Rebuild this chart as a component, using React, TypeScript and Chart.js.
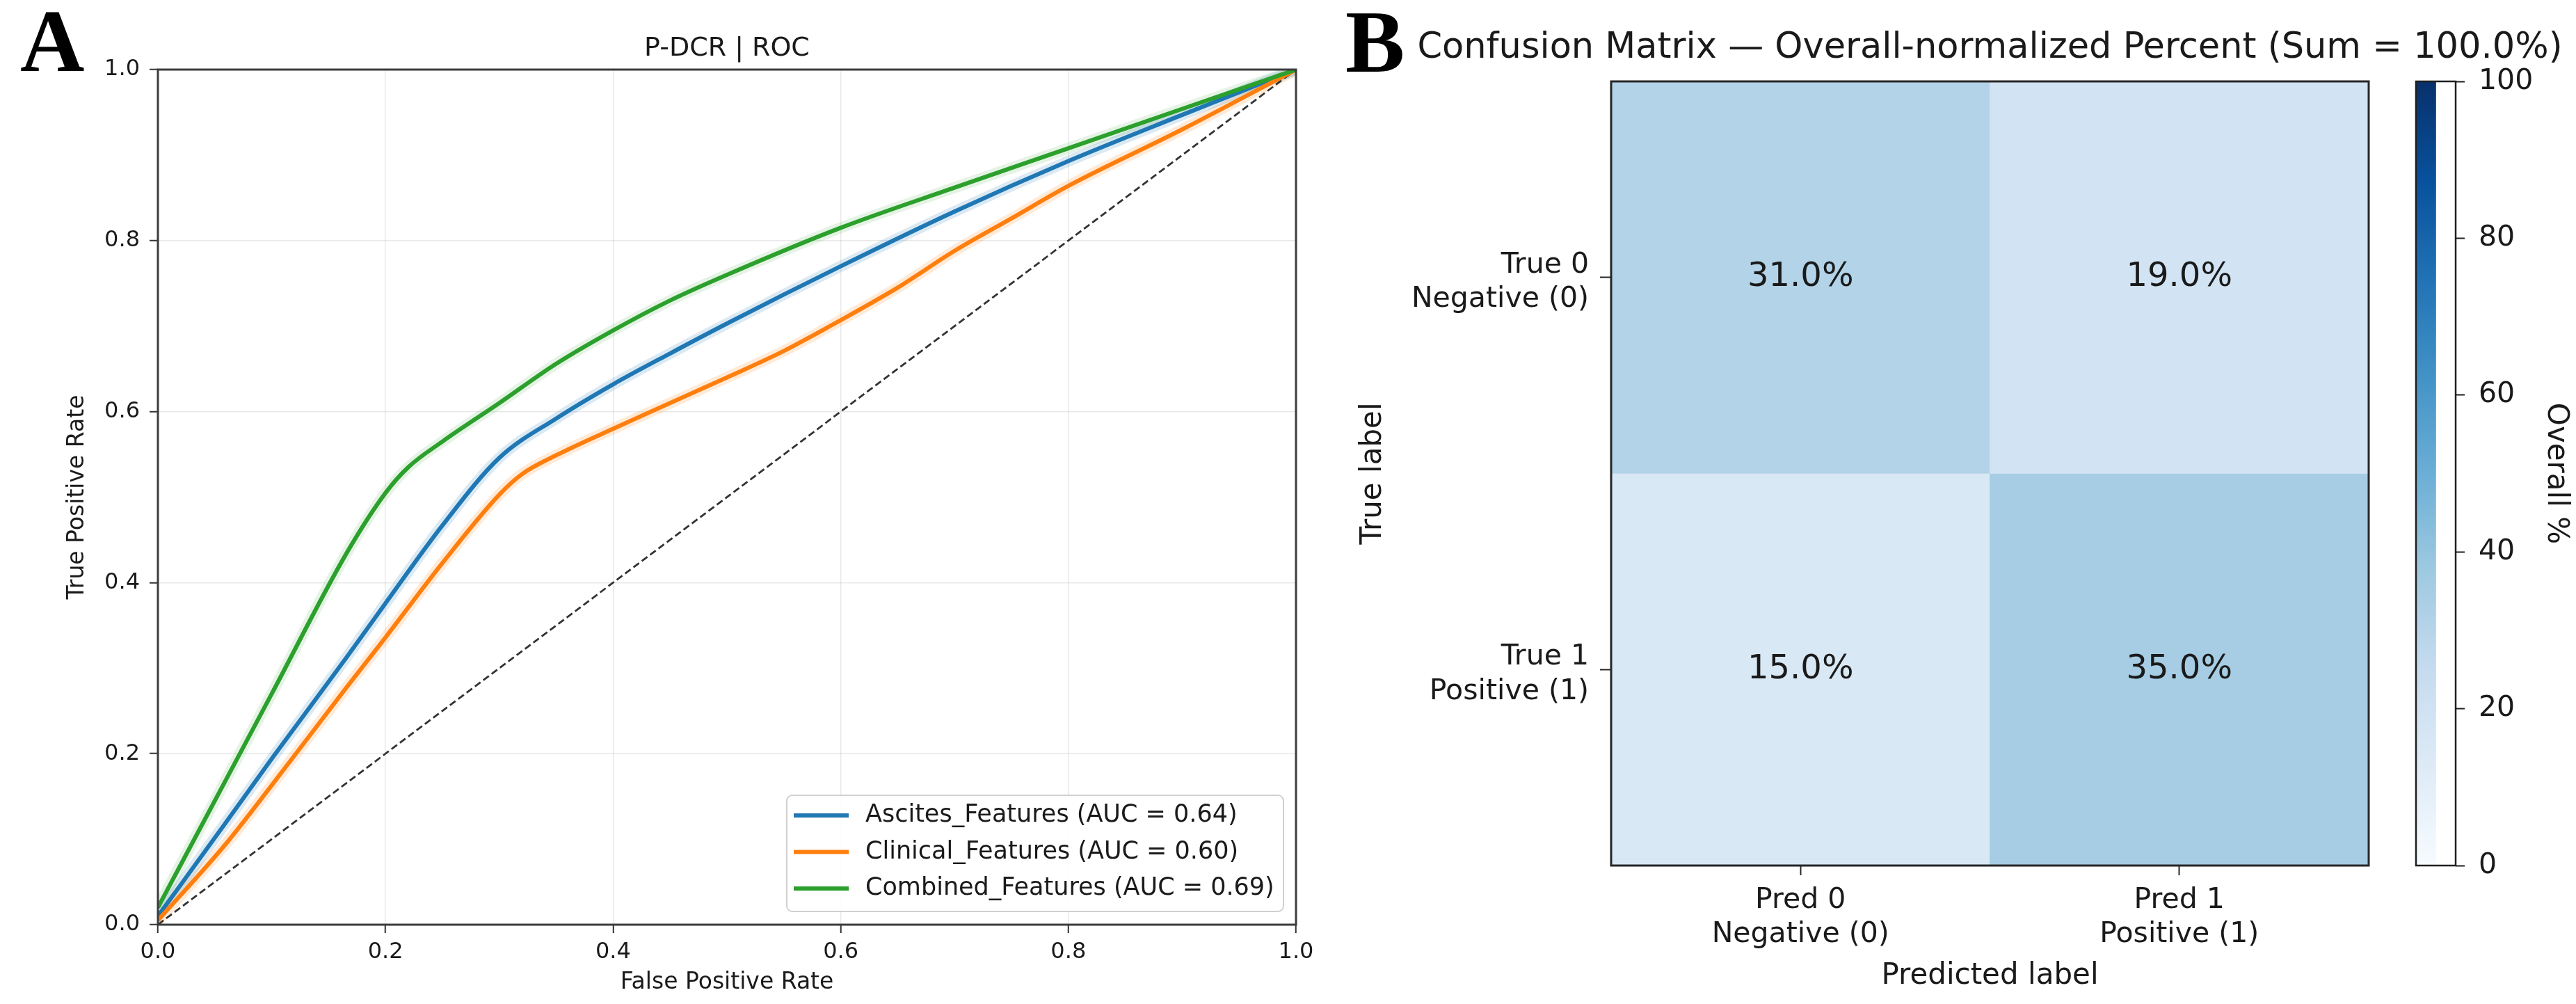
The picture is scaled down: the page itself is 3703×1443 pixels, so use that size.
import React, { useEffect, useRef } from 'react';
import { Chart, registerables } from 'chart.js';

Chart.register(...registerables);

const FONT = "'DejaVu Sans', 'Noto Sans', sans-serif";
const SERIF = "'Liberation Serif', 'DejaVu Serif', serif";
const TEXT = '#1a1a1a';

// ---------- Panel A: ROC ----------
const rocTitle = 'P-DCR | ROC';
const rocXLabel = 'False Positive Rate';
const rocYLabel = 'True Positive Rate';
const rocTicks = [0, 0.2, 0.4, 0.6, 0.8, 1.0];
const seriesNames = ['Ascites_Features', 'Clinical_Features', 'Combined_Features'];
const seriesAuc = [0.64, 0.6, 0.69];
const seriesColors = ['#1f77b4', '#ff7f0e', '#2ca02c'];
const seriesBands = ['rgba(31,119,180,0.16)', 'rgba(255,127,14,0.16)', 'rgba(44,160,44,0.12)'];

const ascitesFpr = [0, 0.06, 0.1, 0.166, 0.2, 0.25, 0.3, 0.35, 0.4, 0.45, 0.5, 0.6, 0.7, 0.8, 0.9, 1.0];
const ascitesTpr = [0.01, 0.12, 0.194, 0.313, 0.376, 0.467, 0.546, 0.592, 0.632, 0.668, 0.703, 0.77, 0.834, 0.893, 0.947, 1.0];

const clinicalFpr = [0, 0.06, 0.1, 0.166, 0.2, 0.25, 0.3, 0.32, 0.35, 0.4, 0.45, 0.5, 0.55, 0.6, 0.65, 0.7, 0.75, 0.8, 0.9, 1.0];
const clinicalTpr = [0.005, 0.095, 0.163, 0.278, 0.336, 0.423, 0.503, 0.527, 0.549, 0.58, 0.61, 0.64, 0.671, 0.707, 0.745, 0.788, 0.826, 0.864, 0.93, 1.0];

const combinedFpr = [0, 0.06, 0.1, 0.166, 0.2, 0.22, 0.25, 0.3, 0.35, 0.4, 0.45, 0.5, 0.6, 0.7, 0.8, 0.9, 1.0];
const combinedTpr = [0.02, 0.17, 0.27, 0.435, 0.505, 0.535, 0.565, 0.61, 0.656, 0.695, 0.73, 0.76, 0.815, 0.862, 0.908, 0.954, 1.0];

const chanceFpr = [0, 1];
const chanceTpr = [0, 1];

// ---------- Panel B: confusion matrix ----------
const cmTitle = 'Confusion Matrix \u2014 Overall-normalized Percent (Sum = 100.0%)';
const predLabels = [['Pred 0', 'Negative (0)'], ['Pred 1', 'Positive (1)']];
const trueLabels = [['True 0', 'Negative (0)'], ['True 1', 'Positive (1)']];
const row0Percent = [31.0, 19.0];
const row1Percent = [15.0, 35.0];
const cmXLabel = 'Predicted label';
const cmYLabel = 'True label';
const colorbarLabel = 'Overall %';
const colorbarTicks = [0, 20, 40, 60, 80, 100];

const BLUES = ['#f7fbff', '#deebf7', '#c6dbef', '#9ecae1', '#6baed6', '#4292c6', '#2171b5', '#08519c', '#08306b'];

function hexToRgb(h: string) {
  const n = parseInt(h.slice(1), 16);
  return [(n >> 16) & 255, (n >> 8) & 255, n & 255];
}
function blues(t: number) {
  const c = Math.max(0, Math.min(1, t)) * (BLUES.length - 1);
  const i = Math.min(BLUES.length - 2, Math.floor(c));
  const f = c - i;
  const a = hexToRgb(BLUES[i]);
  const b = hexToRgb(BLUES[i + 1]);
  const m = a.map((v, k) => Math.round(v + (b[k] - v) * f));
  return `rgb(${m[0]},${m[1]},${m[2]})`;
}

const pts = (xs: number[], ys: number[]) => xs.map((x, i) => ({ x, y: ys[i] }));

function makeRocConfig(): any {
  const curves = [
    pts(ascitesFpr, ascitesTpr),
    pts(clinicalFpr, clinicalTpr),
    pts(combinedFpr, combinedTpr),
  ];
  const mains = curves.map((d, i) => ({
    label: `${seriesNames[i]} (AUC = ${seriesAuc[i].toFixed(2)})`,
    data: d,
    borderColor: seriesColors[i],
    backgroundColor: seriesColors[i],
    borderWidth: 6,
    pointRadius: 0,
    fill: false,
    cubicInterpolationMode: 'monotone',
    order: 3 - i,
    isMain: true,
  }));
  const bands = curves.map((d, i) => ({
    label: '',
    data: d,
    borderColor: seriesBands[i],
    borderWidth: 16,
    pointRadius: 0,
    fill: false,
    cubicInterpolationMode: 'monotone',
    order: 10 + i,
  }));
  const chance = {
    label: '',
    data: pts(chanceFpr, chanceTpr),
    borderColor: '#333333',
    borderWidth: 2.8,
    borderDash: [10, 5],
    pointRadius: 0,
    fill: false,
    order: 5,
  };

  const axisCommon = (title: string, isX: boolean) => ({
    type: 'linear',
    min: 0,
    max: 1,
    afterBuildTicks: (s: any) => { s.ticks = rocTicks.map((v) => ({ value: v })); },
    afterFit: (s: any) => { if (isX) s.height = 114; else s.width = 227; },
    ticks: {
      font: { family: FONT, size: 32 },
      color: TEXT,
      padding: isX ? 8 : 14,
      autoSkip: false,
      maxRotation: 0,
      callback: (v: any) => Number(v).toFixed(1),
    },
    grid: {
      color: 'rgba(190,190,190,0.35)',
      lineWidth: 1.5,
      tickColor: '#333',
      tickLength: 12,
      tickWidth: 2,
    },
    border: { display: false },
    title: {
      display: true,
      text: title,
      color: TEXT,
      font: { family: FONT, size: 33 },
      padding: isX ? { top: 0, bottom: 11 } : { top: 92, bottom: 0 },
    },
  });

  const plugin = {
    id: 'rocExtras',
    afterDraw(chart: any) {
      const { ctx, chartArea: a } = chart;
      ctx.save();
      // frame
      ctx.strokeStyle = '#3c3c3c';
      ctx.lineWidth = 3;
      ctx.strokeRect(a.left, a.top, a.right - a.left, a.bottom - a.top);
      // legend
      const w = 714, h = 167;
      const lx = a.right - 18 - w;
      const ly = a.bottom - 19 - h;
      const r = 8;
      ctx.beginPath();
      ctx.moveTo(lx + r, ly);
      ctx.arcTo(lx + w, ly, lx + w, ly + h, r);
      ctx.arcTo(lx + w, ly + h, lx, ly + h, r);
      ctx.arcTo(lx, ly + h, lx, ly, r);
      ctx.arcTo(lx, ly, lx + w, ly, r);
      ctx.closePath();
      ctx.fillStyle = 'rgba(255,255,255,0.85)';
      ctx.fill();
      ctx.strokeStyle = '#d0d0d0';
      ctx.lineWidth = 2;
      ctx.stroke();
      const items = chart.data.datasets.filter((d: any) => d.isMain);
      items.forEach((d: any, i: number) => {
        const y = ly + 29 + i * 52.5;
        ctx.strokeStyle = d.borderColor;
        ctx.lineWidth = 6;
        ctx.beginPath();
        ctx.moveTo(lx + 10, y);
        ctx.lineTo(lx + 89, y);
        ctx.stroke();
        ctx.fillStyle = TEXT;
        ctx.font = `35px ${FONT}`;
        ctx.textAlign = 'left';
        ctx.textBaseline = 'middle';
        ctx.fillText(d.label, lx + 113, y);
      });
      // panel letter
      ctx.fillStyle = '#000';
      ctx.font = `bold 128px ${SERIF}`;
      ctx.textAlign = 'left';
      ctx.textBaseline = 'alphabetic';
      ctx.fillText('A', 29, 102);
      ctx.restore();
    },
  };

  return {
    type: 'line',
    data: { datasets: [...mains, chance, ...bands] },
    options: {
      responsive: false,
      animation: false,
      events: [],
      layout: { padding: { left: 0, right: 37, top: 0, bottom: 0 } },
      plugins: {
        legend: { display: false },
        tooltip: { enabled: false },
        title: {
          display: true,
          text: rocTitle,
          fullSize: false,
          color: TEXT,
          font: { family: FONT, size: 38, weight: 'normal' },
          padding: { top: 47, bottom: 7.4 },
        },
      },
      scales: {
        x: axisCommon(rocXLabel, true),
        y: axisCommon(rocYLabel, false),
      },
    },
    plugins: [plugin],
  };
}

function makeCmConfig(): any {
  const rows = [row0Percent, row1Percent];
  const nRows = trueLabels.length;
  const datasets = rows.map((vals, r) => ({
    label: trueLabels[r].join(' '),
    data: vals.map(() => [nRows - 1 - r, nRows - r]),
    percents: vals,
    backgroundColor: vals.map((v) => blues(v / 100)),
    borderWidth: 0,
    barPercentage: 1,
    categoryPercentage: 1,
    grouped: false,
  }));

  const plugin = {
    id: 'cmExtras',
    afterDraw(chart: any) {
      const { ctx, chartArea: a } = chart;
      ctx.save();
      // cell texts
      ctx.fillStyle = TEXT;
      ctx.font = `48px ${FONT}`;
      ctx.textAlign = 'center';
      ctx.textBaseline = 'middle';
      chart.data.datasets.forEach((d: any, di: number) => {
        const meta = chart.getDatasetMeta(di);
        meta.data.forEach((el: any, i: number) => {
          const cy = (el.y + el.base) / 2;
          ctx.fillText(`${d.percents[i].toFixed(1)}%`, el.x, cy);
        });
      });
      // frame
      ctx.strokeStyle = '#262626';
      ctx.lineWidth = 3;
      ctx.strokeRect(a.left, a.top, a.right - a.left, a.bottom - a.top);
      // title
      ctx.fillStyle = TEXT;
      ctx.font = `51px ${FONT}`;
      ctx.textAlign = 'center';
      ctx.textBaseline = 'middle';
      ctx.fillText(cmTitle, (a.left + a.right) / 2, a.top - 47);
      // panel letter
      ctx.fillStyle = '#000';
      ctx.font = `bold 128px ${SERIF}`;
      ctx.textAlign = 'left';
      ctx.textBaseline = 'alphabetic';
      ctx.fillText('B', 34, 103);
      ctx.restore();
    },
  };

  return {
    type: 'bar',
    data: { labels: predLabels, datasets },
    options: {
      responsive: false,
      animation: false,
      events: [],
      layout: { padding: { left: 0, right: 298, top: 117, bottom: 0 } },
      plugins: { legend: { display: false }, tooltip: { enabled: false }, title: { display: false } },
      scales: {
        x: {
          type: 'category',
          offset: true,
          afterFit: (s: any) => { s.height = 199; },
          ticks: { font: { family: FONT, size: 41 }, color: TEXT, padding: 12, autoSkip: false, maxRotation: 0 },
          grid: { offset: false, drawOnChartArea: false, tickLength: 14, tickColor: '#262626', tickWidth: 2 },
          border: { display: false },
          title: {
            display: true,
            text: cmXLabel,
            color: TEXT,
            font: { family: FONT, size: 42 },
            padding: { top: 0, bottom: 15 },
          },
        },
        y: {
          type: 'linear',
          min: 0,
          max: nRows,
          afterFit: (s: any) => { s.width = 416; },
          afterBuildTicks: (s: any) => { s.ticks = trueLabels.map((_, r) => ({ value: nRows - r - 0.5 })); },
          ticks: {
            font: { family: FONT, size: 41 },
            color: TEXT,
            padding: 16,
            autoSkip: false,
            labelOffset: 7,
            callback: (v: any) => trueLabels[Math.round(nRows - 0.5 - Number(v))],
          },
          grid: { drawOnChartArea: false, tickLength: 16, tickColor: '#262626', tickWidth: 2 },
          border: { display: false },
          title: {
            display: true,
            text: cmYLabel,
            color: TEXT,
            font: { family: FONT, size: 42 },
            padding: { top: 49, bottom: 0 },
          },
        },
      },
    },
    plugins: [plugin],
  };
}

function makeColorbarConfig(): any {
  const cbMin = colorbarTicks[0];
  const cbMax = colorbarTicks[colorbarTicks.length - 1];
  const plugin = {
    id: 'cbFrame',
    afterDraw(chart: any) {
      const { ctx, chartArea: a } = chart;
      ctx.save();
      ctx.strokeStyle = '#1f1f1f';
      ctx.lineWidth = 2.5;
      ctx.strokeRect(a.left, a.top, a.right - a.left, a.bottom - a.top);
      ctx.restore();
    },
  };
  return {
    type: 'bar',
    data: {
      labels: [colorbarLabel],
      datasets: [
        {
          label: colorbarLabel,
          data: [[cbMin, cbMax]],
          borderWidth: 0,
          barPercentage: 1,
          categoryPercentage: 1,
          backgroundColor: (c: any) => {
            const chart = c.chart;
            const area = chart.chartArea;
            if (!area) return BLUES[4];
            const g = chart.ctx.createLinearGradient(0, area.bottom, 0, area.top);
            BLUES.forEach((col, i) => g.addColorStop(i / (BLUES.length - 1), col));
            return g;
          },
        },
      ],
    },
    options: {
      responsive: false,
      animation: false,
      events: [],
      layout: { padding: { left: 53, right: 0, top: 117, bottom: 199 } },
      plugins: { legend: { display: false }, tooltip: { enabled: false } },
      scales: {
        x: { display: false, offset: false },
        y: {
          type: 'linear',
          position: 'right',
          min: cbMin,
          max: cbMax,
          afterFit: (s: any) => { s.width = 173; },
          afterBuildTicks: (s: any) => { s.ticks = colorbarTicks.map((v) => ({ value: v })); },
          ticks: { font: { family: FONT, size: 41 }, color: TEXT, padding: 20, autoSkip: false },
          grid: { drawOnChartArea: false, tickLength: 13, tickColor: '#1f1f1f', tickWidth: 2 },
          border: { display: false },
          title: {
            display: true,
            text: colorbarLabel,
            color: TEXT,
            font: { family: FONT, size: 42 },
            padding: { top: 4, bottom: 0 },
          },
        },
      },
    },
    plugins: [plugin],
  };
}

export default function App() {
  const aRef = useRef<HTMLCanvasElement>(null);
  const bRef = useRef<HTMLCanvasElement>(null);
  const cRef = useRef<HTMLCanvasElement>(null);

  useEffect(() => {
    Chart.defaults.font.family = FONT;
    const charts = [
      new Chart(aRef.current as HTMLCanvasElement, makeRocConfig()),
      new Chart(bRef.current as HTMLCanvasElement, makeCmConfig()),
      new Chart(cRef.current as HTMLCanvasElement, makeColorbarConfig()),
    ];
    return () => charts.forEach((c) => c.destroy());
  }, []);

  return (
    <div style={{ position: 'absolute', left: 0, top: 0, width: 3703, height: 1443, background: '#ffffff', overflow: 'hidden' }}>
      <canvas ref={aRef} width={1900} height={1443} style={{ position: 'absolute', left: 0, top: 0, width: 1900, height: 1443 }} />
      <canvas ref={bRef} width={1803} height={1443} style={{ position: 'absolute', left: 1900, top: 0, width: 1803, height: 1443 }} />
      <canvas ref={cRef} width={283} height={1443} style={{ position: 'absolute', left: 3420, top: 0, width: 283, height: 1443 }} />
    </div>
  );
}
